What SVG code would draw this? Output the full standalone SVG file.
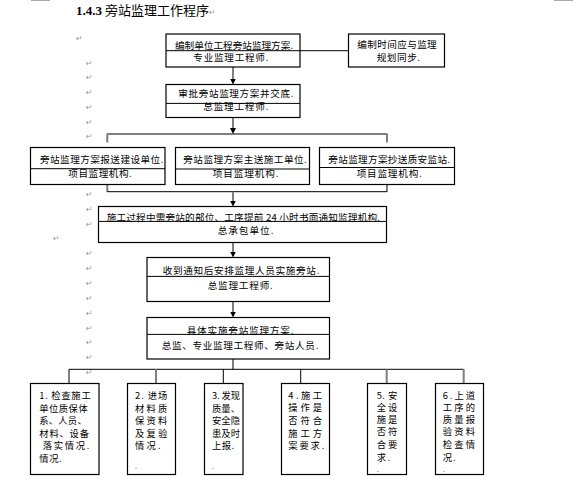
<svg xmlns="http://www.w3.org/2000/svg" width="583" height="479" viewBox="0 0 583 479">
<style>
.box{fill:#fff;stroke:#000;stroke-width:1.2}
.div{stroke:#000;stroke-width:1}
.t{font-family:"Noto Sans CJK SC","Liberation Sans",sans-serif;font-size:9.6px;fill:#000}
.b .t{font-size:9.3px}
.dot{font-family:"Liberation Sans",sans-serif;font-size:7px;fill:#000}
.pm{font-family:"DejaVu Sans",sans-serif;font-size:8px;fill:#9a9a9a}
.thin{stroke:#000;stroke-width:1;fill:none}
.gray{stroke:#7f7f7f;stroke-width:2;fill:none}
</style>
<defs>
<marker id="ah" viewBox="0 0 6 6" refX="2" refY="3" markerWidth="6" markerHeight="6" markerUnits="userSpaceOnUse" orient="auto">
<path d="M0,0 L6,3 L0,6 z" fill="#000"/>
</marker>
</defs>
<rect width="583" height="479" fill="#fff"/>
<line x1="31" y1="0.5" x2="50" y2="0.5" stroke="#aaa" stroke-width="1"/>
<line x1="554" y1="0.5" x2="573" y2="0.5" stroke="#aaa" stroke-width="1"/>
<text x="76" y="15" font-size="13" font-family="Noto Sans CJK SC, sans-serif"><tspan font-family="Liberation Serif, serif" font-weight="bold">1.4.3</tspan> 旁站监理工作程序<tspan class="pm">↵</tspan></text>
<g id="marks">
<text class="pm" x="76" y="41">↵</text>
<text class="pm" x="86" y="66">↵</text>
<text class="pm" x="86" y="79.5">↵</text>
<text class="pm" x="86" y="94.5">↵</text>
<text class="pm" x="86" y="109.5">↵</text>
<text class="pm" x="86" y="124.5">↵</text>
<text class="pm" x="86" y="138.5">↵</text>
<text class="pm" x="86" y="197">↵</text>
<text class="pm" x="86" y="212">↵</text>
<text class="pm" x="86" y="226.5">↵</text>
<text class="pm" x="53" y="241">↵</text>
<text class="pm" x="86" y="256">↵</text>
<text class="pm" x="86" y="271">↵</text>
<text class="pm" x="86" y="286">↵</text>
<text class="pm" x="86" y="301">↵</text>
<text class="pm" x="86" y="316">↵</text>
<text class="pm" x="86" y="331">↵</text>
<text class="pm" x="86" y="345">↵</text>
<text class="pm" x="86" y="360">↵</text>
<text class="pm" x="86" y="375">↵</text>
</g>
<g id="connectors">
<line class="thin" x1="300" y1="50.7" x2="348.5" y2="50.7"/>
<line class="gray" x1="233" y1="67" x2="233" y2="80.5" marker-end="url(#ah)"/>
<line class="gray" x1="233" y1="117.5" x2="233" y2="130" marker-end="url(#ah)"/>
<line class="thin" x1="107.3" y1="134" x2="387" y2="134"/>
<line class="gray" x1="107.3" y1="133.5" x2="107.3" y2="142.5"/>
<line class="gray" x1="387" y1="133.5" x2="387" y2="142.5"/>
<line class="gray" x1="107.3" y1="184.5" x2="107.3" y2="192"/>
<line class="gray" x1="387" y1="184.5" x2="387" y2="192"/>
<line class="thin" x1="107.3" y1="191.7" x2="387" y2="191.7"/>
<line class="gray" x1="233" y1="191.7" x2="233" y2="202.5" marker-end="url(#ah)"/>
<line class="gray" x1="233" y1="242.5" x2="233" y2="253.5" marker-end="url(#ah)"/>
<line class="gray" x1="233" y1="301.5" x2="233" y2="313.5" marker-end="url(#ah)"/>
<line class="gray" x1="233" y1="359" x2="233" y2="369.5"/>
<line class="thin" x1="69" y1="369.3" x2="463.7" y2="369.3"/>
<line class="thin" x1="69" y1="369.3" x2="69" y2="383.5"/>
<line class="gray" x1="156" y1="369.3" x2="156" y2="383.5"/>
<line class="thin" x1="223.3" y1="369.3" x2="223.3" y2="383.5"/>
<line class="thin" x1="300.7" y1="369.3" x2="300.7" y2="383.5"/>
<line class="gray" x1="386.7" y1="369.3" x2="386.7" y2="383.5"/>
<line class="gray" x1="463.7" y1="369.3" x2="463.7" y2="383.5"/>
</g>
<g id="n1">
<rect class="box" x="166" y="34" width="134" height="33"/>
<line class="div" x1="166" y1="50.7" x2="300" y2="50.7"/>
<text class="t" x="175" y="48.5" textLength="118" lengthAdjust="spacing">编制单位工程旁站监理方案.</text>
<text class="t" x="193.3" y="60.5" textLength="75" lengthAdjust="spacing">专业监理工程师.</text>
</g>
<g id="n2">
<rect class="box" x="348.5" y="34" width="96" height="33"/>
<text class="t" x="357.3" y="48" textLength="79.4" lengthAdjust="spacing">编制时间应与监理</text>
<text class="t" x="376.7" y="60.5" textLength="43.3" lengthAdjust="spacing">规划同步.</text>
</g>
<g id="n3">
<rect class="box" x="166" y="84.5" width="134" height="33"/>
<line class="div" x1="166" y1="103.4" x2="300" y2="103.4"/>
<text class="t" x="178.3" y="97" textLength="115" lengthAdjust="spacing">审批旁站监理方案并交底.</text>
<text class="t" x="203.3" y="110" textLength="65" lengthAdjust="spacing">总监理工程师.</text>
</g>
<g id="nA">
<rect class="box" x="30.5" y="147.5" width="134.5" height="37"/>
<line class="div" x1="30.5" y1="168.7" x2="165" y2="168.7"/>
<text class="t" x="40" y="163" textLength="123.3" lengthAdjust="spacing">旁站监理方案报送建设单位.</text>
<text class="t" x="68.3" y="177" textLength="63.4" lengthAdjust="spacing">项目监理机构.</text>
</g>
<g id="nB">
<rect class="box" x="175.5" y="147.5" width="134" height="37"/>
<line class="div" x1="175.5" y1="169" x2="309.5" y2="169"/>
<text class="t" x="183.3" y="163" textLength="123.4" lengthAdjust="spacing">旁站监理方案主送施工单位.</text>
<text class="t" x="212.7" y="177" textLength="65.6" lengthAdjust="spacing">项目监理机构.</text>
</g>
<g id="nC">
<rect class="box" x="319.5" y="147.5" width="135" height="37"/>
<line class="div" x1="319.5" y1="167.5" x2="454.5" y2="167.5"/>
<text class="t" x="328.3" y="163" textLength="121.7" lengthAdjust="spacing">旁站监理方案抄送质安监站.</text>
<text class="t" x="356.7" y="177" textLength="65" lengthAdjust="spacing">项目监理机构.</text>
</g>
<g id="nD">
<rect class="box" x="98.5" y="206.5" width="288" height="36"/>
<line class="div" x1="98.5" y1="221.4" x2="386.5" y2="221.4"/>
<text class="t" x="106.7" y="221" textLength="273.3" lengthAdjust="spacing">施工过程中需旁站的部位、工序提前 24 小时书面通知监理机构.</text>
<text class="t" x="217.7" y="234" textLength="55.6" lengthAdjust="spacing">总承包单位.</text>
</g>
<g id="nE">
<rect class="box" x="147" y="257.5" width="182.5" height="44"/>
<line class="div" x1="147" y1="276.4" x2="329.5" y2="276.4"/>
<text class="t" x="162.7" y="273.5" textLength="156.6" lengthAdjust="spacing">收到通知后安排监理人员实施旁站.</text>
<text class="t" x="207.7" y="289" textLength="65" lengthAdjust="spacing">总监理工程师.</text>
</g>
<g id="nF">
<rect class="box" x="147" y="317.5" width="182.5" height="41.5"/>
<line class="div" x1="147" y1="334.4" x2="329.5" y2="334.4"/>
<text class="t" x="186.7" y="334" textLength="106.6" lengthAdjust="spacing">具体实施旁站监理方案.</text>
<text class="t" x="161.7" y="348.5" textLength="156.6" lengthAdjust="spacing">总监、专业监理工程师、旁站人员.</text>
</g>
<g id="b1" class="b">
<rect class="box" x="30.5" y="383.5" width="68.5" height="91"/>
<text class="t" x="39.3" y="398.5" textLength="51.4" lengthAdjust="spacing">1. 检查施工</text>
<text class="t" x="39.3" y="411.5" textLength="48.4" lengthAdjust="spacing">单位质保体</text>
<text class="t" x="39.3" y="424" textLength="47.4" lengthAdjust="spacing">系、人员、</text>
<text class="t" x="39.3" y="436.5" textLength="49.7" lengthAdjust="spacing">材料、设备</text>
<text class="t" x="42.7" y="449" textLength="46.6" lengthAdjust="spacing">落实情况.</text>
<text class="t" x="39.3" y="461.5" textLength="22.4" lengthAdjust="spacing">情况.</text>
</g>
<g id="b2" class="b">
<rect class="box" x="127.5" y="383.5" width="48" height="91"/>
<text class="t" x="135" y="399" textLength="32.3" lengthAdjust="spacing">2. 进场</text>
<text class="t" x="135" y="411.5" textLength="32.3" lengthAdjust="spacing">材料质</text>
<text class="t" x="135" y="424" textLength="32.3" lengthAdjust="spacing">保资料</text>
<text class="t" x="135" y="436.5" textLength="32.3" lengthAdjust="spacing">及复验</text>
<text class="t" x="135" y="449" textLength="25.7" lengthAdjust="spacing">情况.</text>
<text class="dot" x="135" y="469">.</text>
</g>
<g id="b3" class="b">
<rect class="box" x="204.5" y="383.5" width="38.5" height="91"/>
<text class="t" x="212" y="399" textLength="28" lengthAdjust="spacing">3. 发现</text>
<text class="t" x="212" y="411.5" textLength="28" lengthAdjust="spacing">质量、</text>
<text class="t" x="212" y="424" textLength="28" lengthAdjust="spacing">安全隐</text>
<text class="t" x="212" y="436.5" textLength="28" lengthAdjust="spacing">患及时</text>
<text class="t" x="212" y="449" textLength="22" lengthAdjust="spacing">上报.</text>
<text class="dot" x="212" y="469">.</text>
</g>
<g id="b4" class="b">
<rect class="box" x="281.5" y="383.5" width="48" height="91"/>
<text class="t" x="288.3" y="399" textLength="33.7" lengthAdjust="spacing">4.施工</text>
<text class="t" x="288.3" y="411" textLength="33.7" lengthAdjust="spacing">操作是</text>
<text class="t" x="288.3" y="423.5" textLength="33.7" lengthAdjust="spacing">否符合</text>
<text class="t" x="288.3" y="436.5" textLength="33.7" lengthAdjust="spacing">施工方</text>
<text class="t" x="288.3" y="449" textLength="36" lengthAdjust="spacing">案要求.</text>
</g>
<g id="b5" class="b">
<rect class="box" x="367.5" y="383.5" width="39" height="91"/>
<text class="t" x="376.7" y="399" textLength="20.6" lengthAdjust="spacing">5. 安</text>
<text class="t" x="376.7" y="411" textLength="20.6" lengthAdjust="spacing">全设</text>
<text class="t" x="376.7" y="423" textLength="20.6" lengthAdjust="spacing">施是</text>
<text class="t" x="376.7" y="435" textLength="20.6" lengthAdjust="spacing">否符</text>
<text class="t" x="376.7" y="448" textLength="20.6" lengthAdjust="spacing">合要</text>
<text class="t" x="376.7" y="461" textLength="13.3" lengthAdjust="spacing">求.</text>
<text class="dot" x="376.7" y="471.5">.</text>
</g>
<g id="b6" class="b">
<rect class="box" x="435.5" y="383.5" width="48" height="91"/>
<text class="t" x="442.7" y="399" textLength="32.3" lengthAdjust="spacing">6.上道</text>
<text class="t" x="442.7" y="411" textLength="32.3" lengthAdjust="spacing">工序的</text>
<text class="t" x="442.7" y="423" textLength="32.3" lengthAdjust="spacing">质量报</text>
<text class="t" x="442.7" y="435" textLength="32.3" lengthAdjust="spacing">验资料</text>
<text class="t" x="442.7" y="448" textLength="32.3" lengthAdjust="spacing">检查情</text>
<text class="t" x="442.7" y="461" textLength="13" lengthAdjust="spacing">况.</text>
<text class="dot" x="442.7" y="471.5">.</text>
</g>
</svg>
